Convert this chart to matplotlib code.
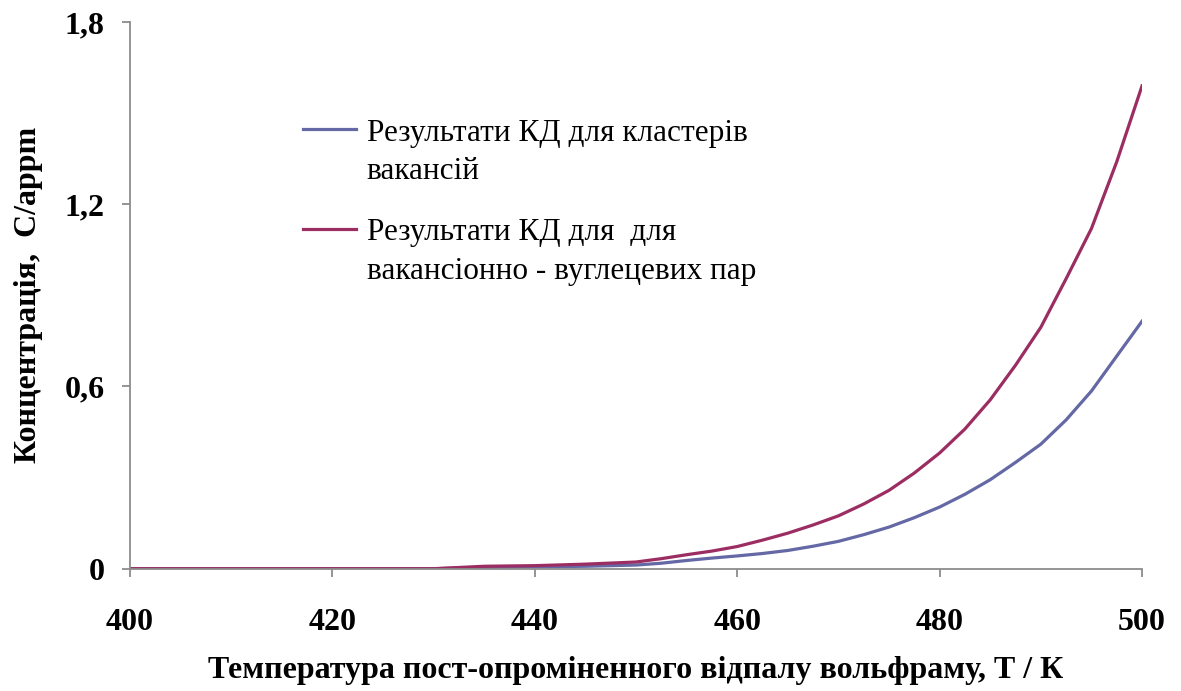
import matplotlib
matplotlib.use('Agg')
import matplotlib.pyplot as plt

plt.rcParams['font.family'] = ['Liberation Serif', 'DejaVu Serif']

# температура, K
temps = [400, 405, 410, 415, 420, 425, 430, 435, 440, 445, 450,
         452.5, 455, 457.5, 460, 462.5, 465, 467.5, 470, 472.5, 475, 477.5,
         480, 482.5, 485, 487.5, 490, 492.5, 495, 497.5, 500]

# кластери вакансій
conc_vac = [0, 0, 0, 0, 0, 0, 0, 0.004, 0.006, 0.008, 0.012,
            0.018, 0.027, 0.035, 0.042, 0.05, 0.06, 0.074, 0.09, 0.112, 0.137, 0.168,
            0.203, 0.245, 0.293, 0.35, 0.41, 0.49, 0.585, 0.70, 0.815]

# вакансійно-вуглецеві пари
conc_vc = [0, 0, 0, 0, 0, 0, 0, 0.008, 0.01, 0.015, 0.022,
           0.033, 0.046, 0.058, 0.073, 0.094, 0.117, 0.144, 0.174, 0.213, 0.258, 0.315,
           0.381, 0.46, 0.556, 0.67, 0.795, 0.955, 1.12, 1.34, 1.59]

yticks = [0, 0.6, 1.2, 1.8]
ytick_labels = ['0', '0,6', '1,2', '1,8']
xticks = [400, 420, 440, 460, 480, 500]

fig = plt.figure(figsize=(11.81, 6.91), dpi=100)
ax = fig.add_axes([0.110, 0.177, 0.857, 0.791])

ax.plot(temps, conc_vac, color='#6468A4', linewidth=2.3,
        label='Результати КД для кластерів\nвакансій')
ax.plot(temps, conc_vc, color='#9B2D62', linewidth=2.3,
        label='Результати КД для  для\nвакансіонно - вуглецевих пар')

ax.set_xlim(400, 500)
ax.set_ylim(0, 1.8)
ax.set_xticks(xticks)
ax.set_yticks(yticks)
ax.set_yticklabels(ytick_labels)

for s in ['top', 'right']:
    ax.spines[s].set_visible(False)
for s in ['left', 'bottom']:
    ax.spines[s].set_color('#8c8c8c')
    ax.spines[s].set_linewidth(1.3)

ax.tick_params(axis='x', direction='out', length=6, width=1.3, color='#8c8c8c',
               pad=22, labelsize=23)
ax.tick_params(axis='y', direction='out', length=6, width=1.3, color='#8c8c8c',
               pad=12, labelsize=23)
for lbl in ax.get_xticklabels() + ax.get_yticklabels():
    lbl.set_fontweight('bold')

ax.set_xlabel('Температура пост-опроміненного відпалу вольфраму, Т / К',
              fontsize=23, fontweight='bold', labelpad=14)
ax.set_ylabel('Концентрація,  С/appm', fontsize=23, fontweight='bold', labelpad=16)

leg = ax.legend(loc='upper left', bbox_to_anchor=(0.143, 0.875), frameon=False,
                fontsize=22.5, handlelength=1.7, handletextpad=0.35,
                labelspacing=1.0)
for t in leg.get_texts():
    t.set_linespacing(1.45)
# маркер легенди на рівні першого рядка підпису
for col in leg._legend_handle_box.get_children():
    for item in col.get_children():
        item.align = 'top'

plt.savefig('out.png', dpi=100)
plt.close()
